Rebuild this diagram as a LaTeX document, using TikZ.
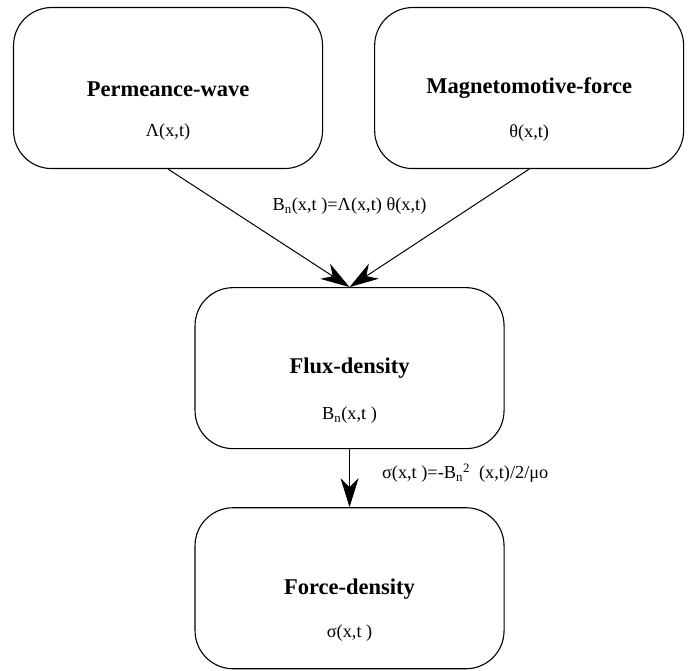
\documentclass[tikz,border=0pt]{standalone}
\usepackage{fontspec}
\setmainfont{Liberation Serif}
\usetikzlibrary{positioning,arrows.meta}

\tikzset{
  block/.style={draw, line width=1.1pt, rounded corners=38pt, minimum width=309pt, minimum height=161pt},
  heading/.style={font=\fontsize{22.5pt}{25pt}\selectfont\bfseries, inner sep=0pt},
  quantity/.style={font=\fontsize{18.3pt}{20pt}\selectfont, inner sep=0pt},
  flow/.style={line width=1pt, -{Stealth[length=29pt,width=18pt,inset=9pt]}},
}

\begin{document}
\begin{tikzpicture}

  % Define nodes
  \node[block]                                    (pw)    {};
  \node[block, right=51pt of pw]                  (mmf)   {};
  \node[block, below=118pt of pw, xshift=181.5pt] (flux)  {};
  \node[block, below=58pt of flux]                (force) {};

  % Texts in the blocks
  \node[heading]  (pwT)    at ([yshift=-1.5pt]pw.center)    {Permeance-wave};
  \node[quantity] (pwQ)    at ([yshift=-44.5pt]pw.center)   {Λ(x,t)};
  \node[heading]  (mmfT)   at (mmf.center)                  {Magnetomotive-force};
  \node[quantity] (mmfQ)   at ([yshift=-45pt]mmf.center)    {θ(x,t)};
  \node[heading]  (fluxT)  at (flux.center)                 {Flux-density};
  \node[quantity] (fluxQ)  at ([yshift=-47pt]flux.center)   {B\textsubscript{n}(x,t )};
  \node[heading]  (forceT) at ([yshift=-0.5pt]force.center) {Force-density};
  \node[quantity] (forceQ) at ([yshift=-44.5pt]force.center) {σ(x,t )};

  % Connect the nodes
  \draw[flow] (pw.south) -- (flux.north);
  \draw[flow] (mmf.south) -- (flux.north);
  \node[quantity] (bn) at ([yshift=81pt]flux.north) {B\textsubscript{n}(x,t )=Λ(x,t) θ(x,t)};
  \draw[flow] (flux.south) -- node[quantity, right, xshift=32pt, yshift=5pt] (sigma)
    {σ(x,t )=-B\textsubscript{n}\textsuperscript{2}\ \ (x,t)/2/μo} (force.north);

  % Frame
  \path (pw.north west) ++(-13pt,7pt) rectangle ++(699pt,-671pt);

\end{tikzpicture}
\end{document}
